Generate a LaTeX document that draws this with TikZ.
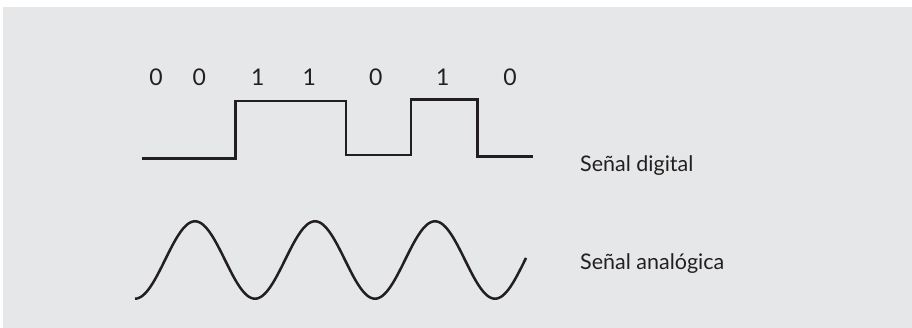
\documentclass[tikz,border=0pt]{standalone}
\usepackage{fontspec}
\setmainfont{Lato}
\definecolor{panel}{HTML}{E6E7E8}
\definecolor{ink}{HTML}{231F20}
\tikzset{
  wave/.style={draw=ink, line width=2.5pt, line join=miter},
  digit/.style={anchor=base, inner sep=0pt, text=ink, font=\fontsize{23}{26}\selectfont},
  label/.style={anchor=base west, inner sep=0pt, text=ink, font=\fontsize{21.5}{25}\selectfont}
}
\begin{document}
\begin{tikzpicture}[x=1pt,y=-1pt]
\useasboundingbox (0,0) rectangle (912,328);
\fill[panel] (3,7) rectangle (912,328);
% digits
\node[digit] (d1) at (156,86) {0};
\node[digit] (d2) at (199.3,86) {0};
\node[digit] (d3) at (257.7,86) {1};
\node[digit] (d4) at (309.3,86) {1};
\node[digit] (d5) at (375.7,86) {0};
\node[digit] (d6) at (442.7,86) {1};
\node[digit] (d7) at (510,86) {0};
% digital signal
\draw[wave] (141.7,158.3) -- (235.3,158.3) -- (235.3,101) -- (346,101) -- (346,155) -- (411,155) -- (411,99.5) -- (477.3,99.5) -- (477.3,156.5) -- (533.3,156.5);
% analog signal
\draw[wave, line cap=butt, smooth] plot[domain=135:526, samples=200] (\x, {260+38.7*cos(3*(\x-135))});
% labels
\node[label] (ld) at (580,172) {Señal digital};
\node[label] (la) at (580,270) {Señal analógica};
\end{tikzpicture}
\end{document}
